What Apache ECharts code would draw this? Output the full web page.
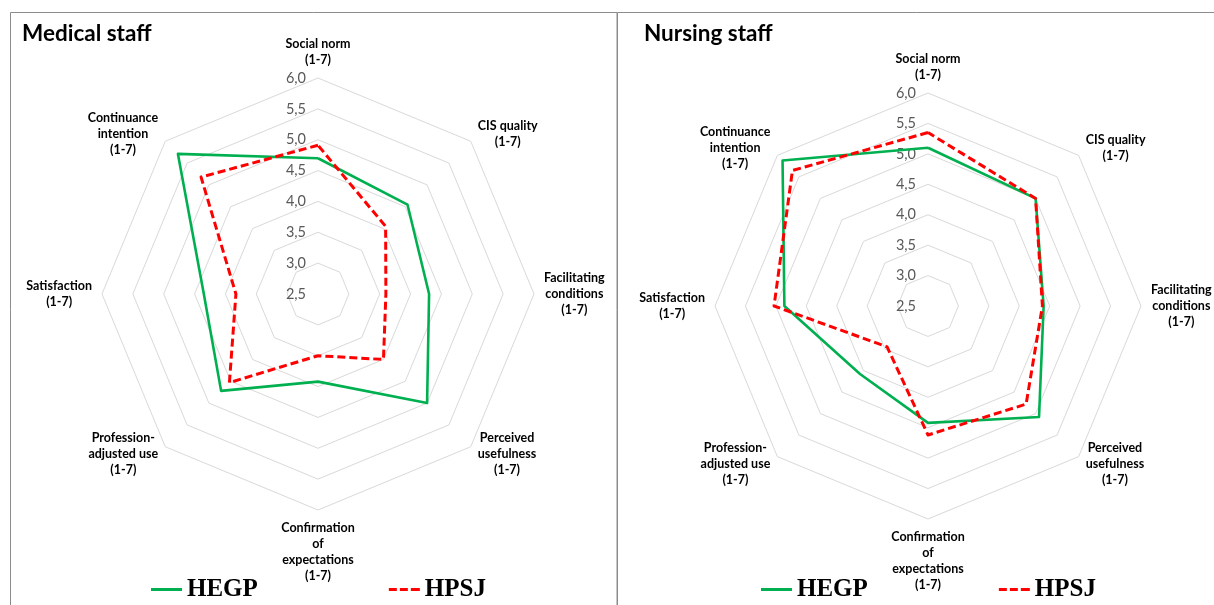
<!DOCTYPE html>
<html>
<head>
<meta charset="utf-8">
<script src="https://cdn.jsdelivr.net/npm/echarts@6/dist/echarts.min.js"></script>
<style>
html,body{margin:0;padding:0;background:#fff;}
#chart{width:1214px;height:605px;}
</style>
</head>
<body>
<div id="chart"></div>
<script>
// ---- data (categories in the clockwise order of the reference, starting at the top) ----
const categories = [
  'Social norm\n(1-7)',
  'CIS quality\n(1-7)',
  'Facilitating\nconditions\n(1-7)',
  'Perceived\nusefulness\n(1-7)',
  'Confirmation\nof\nexpectations\n(1-7)',
  'Profession-\nadjusted use\n(1-7)',
  'Satisfaction\n(1-7)',
  'Continuance\nintention\n(1-7)'
];
const panelTitles = ['Medical staff', 'Nursing staff'];
const seriesNames = ['HEGP', 'HPSJ'];
const scaleMin = 2.5;
const scaleMax = 6.0;
const scaleSteps = 7; // ticks 2,5 ... 6,0

const medicalHEGP = [4.70, 4.55, 4.30, 5.00, 3.92, 4.72, 4.35, 5.71];
const medicalHPSJ = [4.91, 4.05, 3.60, 4.00, 3.50, 4.53, 3.83, 5.18];
const nursingHEGP = [5.10, 5.00, 4.40, 5.08, 4.42, 4.08, 4.86, 5.88];
const nursingHPSJ = [5.35, 5.00, 4.38, 4.78, 4.62, 3.45, 5.03, 5.65];

// ---- helpers ----
// ECharts radar runs counter-clockwise; reorder so the picture reads clockwise.
const ccwOrder = [0, 7, 6, 5, 4, 3, 2, 1];
const reorder = arr => ccwOrder.map(i => arr[i]);

const GREEN = '#00b050';
const RED = '#ff0000';
const labelFont = 'Lato';

function indicators() {
  return ccwOrder.map((i, k) => {
    const o = { name: categories[i], min: scaleMin, max: scaleMax };
    if (k === 0) o.axisLabel = { show: true };
    return o;
  });
}

function radarCfg(center, radius) {
  return {
    center: center,
    radius: radius,
    startAngle: 90,
    shape: 'polygon',
    splitNumber: scaleSteps,
    indicator: indicators(),
    axisNameGap: 10,
    axisName: {
      show: true,
      formatter: function (name) {
        return name.split('\n').map(l => '{c|' + l + '}').join('\n');
      },
      rich: {
        c: {
          align: 'center',
          fontFamily: labelFont,
          fontWeight: 'bold',
          fontSize: 12.5,
          lineHeight: 16,
          color: '#000'
        }
      }
    },
    splitLine: { show: true, lineStyle: { color: '#d9d9d9', width: 1 } },
    splitArea: { show: false },
    axisLine: { show: false },
    axisTick: { show: false },
    axisLabel: {
      show: false,
      margin: 12,
      color: '#595959',
      fontFamily: labelFont,
      fontSize: 14.5,
      showMinLabel: true,
      showMaxLabel: true,
      formatter: function (v) { return Number(v).toFixed(1).replace('.', ','); }
    }
  };
}

function seriesCfg(radarIndex, hegp, hpsj) {
  return {
    type: 'radar',
    radarIndex: radarIndex,
    symbol: 'none',
    silent: true,
    data: [
      { name: seriesNames[0], value: reorder(hegp),
        lineStyle: { color: GREEN, width: 2.6, type: 'solid' },
        itemStyle: { color: GREEN } },
      { name: seriesNames[1], value: reorder(hpsj),
        lineStyle: { color: RED, width: 3, type: [8, 4] },
        itemStyle: { color: RED } }
    ]
  };
}

const solidIcon = 'path://M0,0h31v3h-31z';
const dashIcon = 'path://M0,0h8v3h-8z M11,0h8v3h-8z M22,0h9v3h-9z';

function legendCfg(left) {
  return {
    left: left,
    top: 577,
    padding: 0,
    itemGap: 131,
    itemWidth: 31,
    itemHeight: 3,
    selectedMode: false,
    textStyle: { fontFamily: 'Liberation Serif', fontWeight: 'bold', fontSize: 25, color: '#000' },
    data: [
      { name: seriesNames[0], icon: solidIcon, itemStyle: { color: GREEN } },
      { name: seriesNames[1], icon: dashIcon, itemStyle: { color: RED } }
    ]
  };
}

function titleCfg(text, left) {
  return {
    text: text,
    left: left,
    top: 22,
    padding: 0,
    textStyle: { fontFamily: labelFont, fontWeight: 'bold', fontSize: 22.5, color: '#000' }
  };
}

const chart = echarts.init(document.getElementById('chart'), null, { renderer: 'canvas' });
chart.setOption({
  animation: false,
  backgroundColor: '#fff',
  title: [titleCfg(panelTitles[0], 22), titleCfg(panelTitles[1], 644)],
  legend: [legendCfg(151), legendCfg(761)],
  radar: [radarCfg([318, 294], 216), radarCfg([928, 306], 213)],
  series: [
    seriesCfg(0, medicalHEGP, medicalHPSJ),
    seriesCfg(1, nursingHEGP, nursingHPSJ)
  ],
  graphic: [
    { type: 'rect', silent: true, z: -10,
      shape: { x: 10.5, y: 12.5, width: 606.5, height: 660 },
      style: { fill: 'none', stroke: '#8c8c8c', lineWidth: 1 } },
    { type: 'rect', silent: true, z: -10,
      shape: { x: 617.5, y: 12.5, width: 660, height: 660 },
      style: { fill: 'none', stroke: '#8c8c8c', lineWidth: 1 } }
  ]
});
</script>
</body>
</html>
